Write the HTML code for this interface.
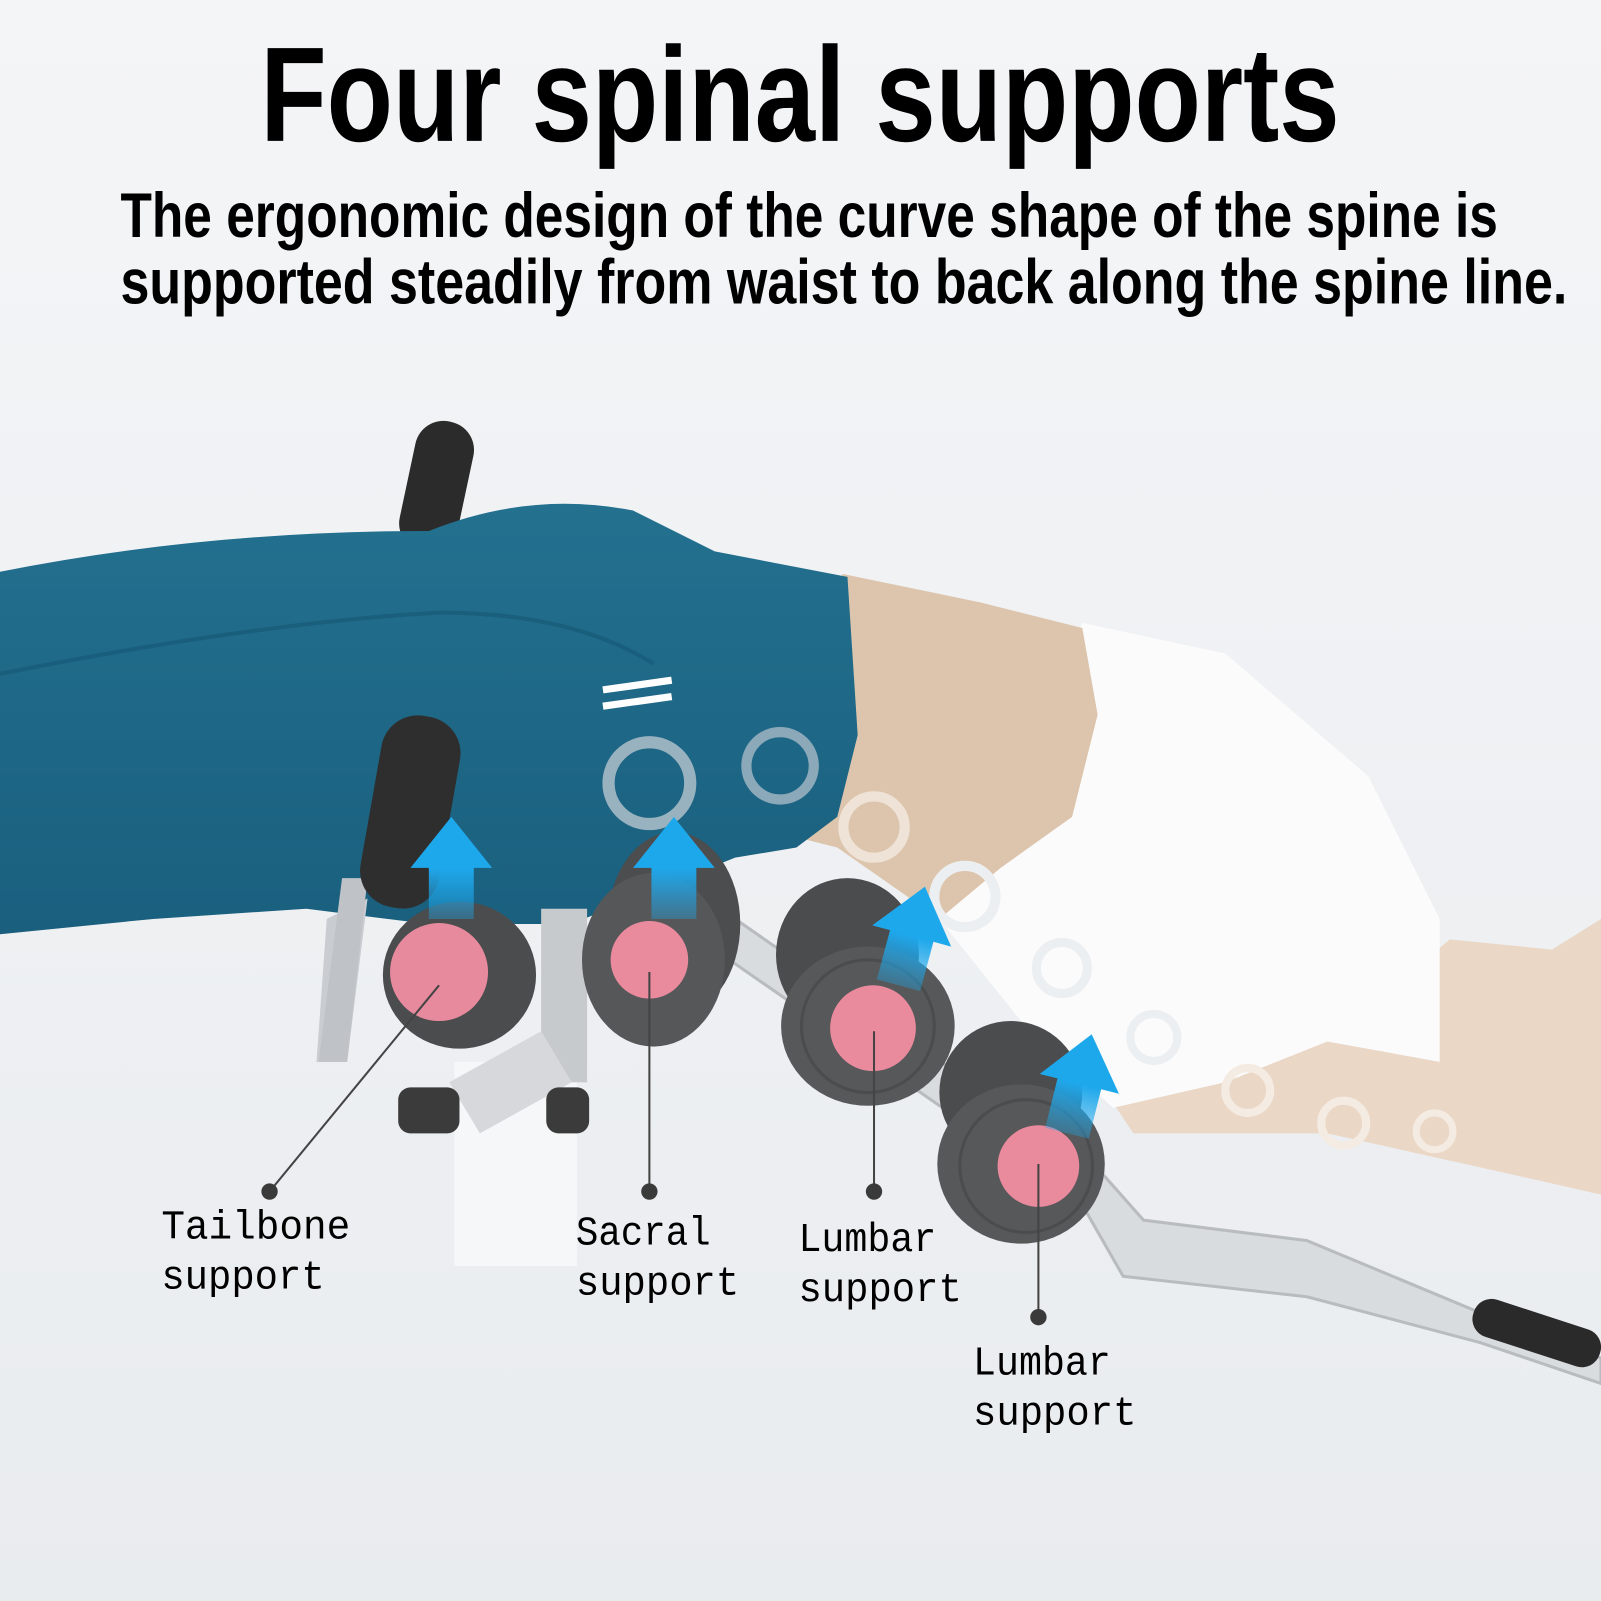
<!DOCTYPE html>
<html><head><meta charset="utf-8"><style>
html,body{margin:0;padding:0;background:#eef0f2}
svg{display:block}
</style></head><body>
<svg width="1601" height="1601" viewBox="0 0 1568 1568" xmlns="http://www.w3.org/2000/svg">
<defs>
<linearGradient id="bg" x1="0" y1="0" x2="0" y2="1"><stop offset="0" stop-color="#f4f5f7"/><stop offset="1" stop-color="#e9ecef"/></linearGradient>
<linearGradient id="teal" x1="0" y1="0" x2="0" y2="1"><stop offset="0" stop-color="#23708f"/><stop offset="1" stop-color="#1a5f7e"/></linearGradient>
<linearGradient id="arr" x1="0" y1="1" x2="0" y2="0"><stop offset="0" stop-color="#1ea8ec" stop-opacity="0.35"/><stop offset="0.5" stop-color="#1ea8ec"/><stop offset="1" stop-color="#1ea8ec"/></linearGradient>
<path id="ar" d="M-22 0 L-22 -50 L-40 -50 L0 -100 L40 -50 L22 -50 L22 0 Z"/>
</defs>
<rect width="1568" height="1568" fill="url(#bg)"/>
<g font-family="'Liberation Sans Narrow','Liberation Sans',sans-serif" fill="#000">
<text x="255" y="138" font-size="132" font-weight="bold" textLength="1057" lengthAdjust="spacingAndGlyphs">Four spinal supports</text>
<text x="118" y="232" font-size="62" font-weight="bold" textLength="1349" lengthAdjust="spacingAndGlyphs">The ergonomic design of the curve shape of the spine is</text>
<text x="118" y="297" font-size="62" font-weight="bold" textLength="1417" lengthAdjust="spacingAndGlyphs">supported steadily from waist to back along the spine line.</text>
</g>
<rect x="400" y="412" width="58" height="130" rx="28" fill="#2b2b2b" transform="rotate(12 430 470)"/>
<path d="M1090 1080 L1300 1020 L1420 920 L1520 930 L1568 900 L1568 1170 L1480 1150 L1300 1110 L1110 1110 Z" fill="#ead7c6"/>
<path d="M1060 610 L1200 640 L1340 760 L1410 900 L1410 1040 L1300 1020 L1200 1060 L1090 1085 L1000 1000 L920 900 L980 800 Z" fill="#fbfbfc"/>
<path d="M825 562 L960 590 L1060 615 L1075 700 L1050 800 L980 850 L920 900 L820 830 L780 820 Z" fill="#dcc5ac"/>
<path d="M0 560 Q200 520 420 520 Q520 480 620 500 L700 540 L830 565 L840 720 L820 800 L780 830 L720 840 L620 880 L560 905 L420 905 L300 890 L150 900 L0 915 Z" fill="url(#teal)"/>
<path d="M0 660 Q250 610 430 600 Q560 600 640 650" stroke="#165673" stroke-width="4" fill="none" opacity="0.6"/>
<rect x="590" y="668" width="68" height="7" fill="#fff" transform="rotate(-8 620 670)"/>
<rect x="590" y="684" width="68" height="7" fill="#fff" transform="rotate(-8 620 686)"/>
<g fill="none">
<circle cx="636" cy="767" r="40" stroke="#aebfca" stroke-width="12" opacity="0.85"/>
<circle cx="764" cy="750" r="33" stroke="#9fb5c2" stroke-width="10" opacity="0.85"/>
<circle cx="856" cy="810" r="30" stroke="#efe2d6" stroke-width="10"/>
<circle cx="945" cy="878" r="30" stroke="#eceff1" stroke-width="10"/>
<circle cx="1040" cy="948" r="25" stroke="#eceff1" stroke-width="9"/>
<circle cx="1130" cy="1016" r="23" stroke="#eceff1" stroke-width="8"/>
<circle cx="1222" cy="1068" r="22" stroke="#f4ebe2" stroke-width="8"/>
<circle cx="1316" cy="1100" r="22" stroke="#f4ebe2" stroke-width="8"/>
<circle cx="1405" cy="1108" r="18" stroke="#f4ebe2" stroke-width="7"/>
</g>
<path d="M320 900 L310 1040 L340 1040 L360 880 Z" fill="#c9ccd0"/>
<rect x="445" y="1040" width="120" height="200" fill="#f6f7f8"/>
<rect x="530" y="890" width="45" height="170" fill="#c7cacd"/>
<path d="M440 1060 L530 1010 L560 1060 L470 1110 Z" fill="#d6d8db"/>
<rect x="390" y="1065" width="60" height="45" rx="12" fill="#3b3b3b"/>
<rect x="535" y="1065" width="42" height="45" rx="12" fill="#3b3b3b"/>
<path d="M720 900 L1080 1150 L1120 1195 L1280 1215 L1460 1290 L1568 1330 L1568 1355 L1450 1315 L1280 1270 L1100 1250 L1060 1180 L700 930 Z" fill="#d9dcdf" stroke="#b8bcc0" stroke-width="3"/>
<rect x="1440" y="1285" width="130" height="38" rx="18" fill="#2a2a2a" transform="rotate(18 1500 1305)"/>
<path d="M360 860 L340 1040 L312 1040 L335 860 Z" fill="#bfc3c7"/>
<rect x="362" y="700" width="78" height="190" rx="36" fill="#2e2e2e" transform="rotate(10 400 800)"/>
<g>
<ellipse cx="450" cy="955" rx="75" ry="72" fill="#4a4c4e"/>
<circle cx="430" cy="952" r="48" fill="#e78a9d"/>
<ellipse cx="660" cy="905" rx="65" ry="90" fill="#4b4d4f"/>
<ellipse cx="640" cy="940" rx="70" ry="85" fill="#555759"/>
<circle cx="636" cy="940" r="38" fill="#e98a9d"/>
<ellipse cx="830" cy="935" rx="70" ry="75" fill="#4a4c4e"/>
<ellipse cx="850" cy="1005" rx="85" ry="78" fill="#565859"/>
<circle cx="850" cy="1005" r="65" fill="none" stroke="#4a4c4e" stroke-width="3"/>
<circle cx="855" cy="1007" r="42" fill="#ea8a9d"/>
<ellipse cx="990" cy="1070" rx="70" ry="70" fill="#4a4c4e"/>
<ellipse cx="1000" cy="1140" rx="82" ry="78" fill="#565859"/>
<circle cx="1005" cy="1142" r="65" fill="none" stroke="#4a4c4e" stroke-width="3"/>
<circle cx="1017" cy="1142" r="40" fill="#ea8a9d"/>
</g>
<g fill="url(#arr)">
<use href="#ar" transform="translate(442 900)"/>
<use href="#ar" transform="translate(660 900)"/>
<use href="#ar" transform="translate(880 965) rotate(15)"/>
<use href="#ar" transform="translate(1045 1110) rotate(14)"/>
</g>
<g stroke="#444" stroke-width="2" fill="#3a3a3a">
<line x1="430" y1="965" x2="264" y2="1167"/><circle cx="264" cy="1167" r="8" stroke="none"/>
<line x1="636" y1="952" x2="636" y2="1167"/><circle cx="636" cy="1167" r="8" stroke="none"/>
<line x1="856" y1="1010" x2="856" y2="1167"/><circle cx="856" cy="1167" r="8" stroke="none"/>
<line x1="1017" y1="1140" x2="1017" y2="1290"/><circle cx="1017" cy="1290" r="8" stroke="none"/>
</g>
<g font-family="'Liberation Mono',monospace" font-size="40" fill="#000">
<text x="158" y="1213" textLength="185" lengthAdjust="spacingAndGlyphs">Tailbone</text><text x="158" y="1262" textLength="160" lengthAdjust="spacingAndGlyphs">support</text>
<text x="564" y="1219" textLength="132" lengthAdjust="spacingAndGlyphs">Sacral</text><text x="564" y="1268" textLength="160" lengthAdjust="spacingAndGlyphs">support</text>
<text x="782" y="1225" textLength="135" lengthAdjust="spacingAndGlyphs">Lumbar</text><text x="782" y="1274" textLength="160" lengthAdjust="spacingAndGlyphs">support</text>
<text x="953" y="1346" textLength="135" lengthAdjust="spacingAndGlyphs">Lumbar</text><text x="953" y="1395" textLength="160" lengthAdjust="spacingAndGlyphs">support</text>
</g>
</svg>
</body></html>
